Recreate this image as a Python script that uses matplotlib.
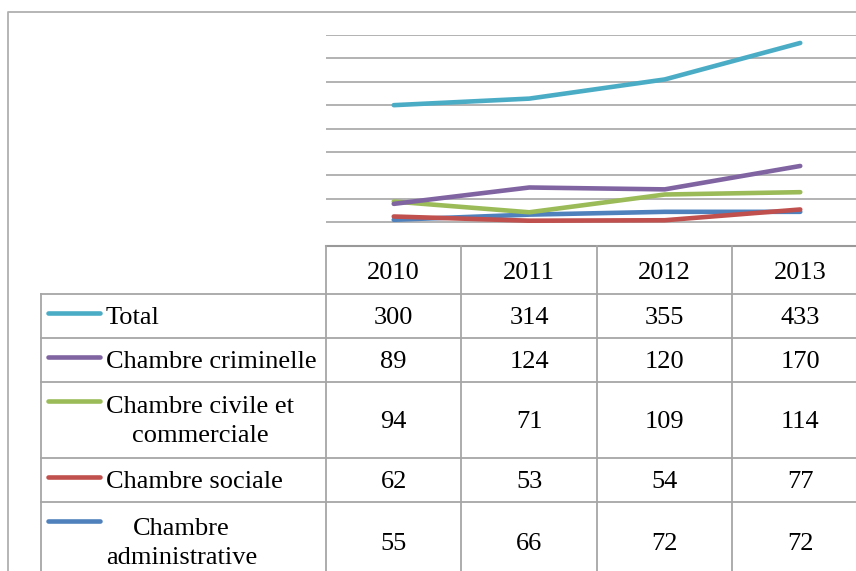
import matplotlib.pyplot as plt

# Cour de cassation: affaires par chambre, 2010-2013
years = ["2010", "2011", "2012", "2013"]
series_names = [
    "Total",
    "Chambre criminelle",
    "Chambre civile et\ncommerciale",
    "Chambre sociale",
    "Chambre\nadministrative",
]
total = [300, 314, 355, 433]
criminelle = [89, 124, 120, 170]
civile = [94, 71, 109, 114]
sociale = [62, 53, 54, 77]
administrative = [55, 66, 72, 72]
series_values = [total, criminelle, civile, sociale, administrative]
colors = ["#4BACC6", "#8064A2", "#9BBB59", "#C0504D", "#4F81BD"]

plt.rcParams["font.family"] = ["Liberation Serif", "DejaVu Serif"]
W, H = 856, 571
fig = plt.figure(figsize=(W / 100, H / 100), dpi=100)

# pixel-space layer for the frame and the data table
tab = fig.add_axes([0, 0, 1, 1])
tab.set_xlim(0, W)
tab.set_ylim(H, 0)
tab.axis("off")

grid_c = "#A6A6A6"
fs = 19

# layout (pixels)
plot_left, col_w = 326, 135.5
plot_top, plot_bottom = 35, 245.5
label_left = 41
header_bottom = 294
row_edges = [294, 338, 382, 458, 502, 582]

# outer chart frame
tab.plot([8, 8, W + 5], [H + 5, 12, 12], color="#B0B0B0", lw=1.3)

# line chart area
ax = fig.add_axes([plot_left / W, (H - plot_bottom) / H,
                   4 * col_w / W, (plot_bottom - plot_top) / H])
ax.patch.set_alpha(0)
ax.set_xlim(-0.5, 3.5)
ax.set_ylim(0, 450)
for v in range(50, 451, 50):
    ax.axhline(v, color=grid_c, lw=1.2, zorder=1)
for s in ax.spines.values():
    s.set_visible(False)
ax.set_xticks([])
ax.set_yticks([])
for vals, c in zip(series_values[::-1], colors[::-1]):
    ax.plot(range(len(years)), vals, color=c, lw=3.3,
            solid_capstyle="round", solid_joinstyle="round", zorder=3)

# table grid
line_kw = dict(color=grid_c, lw=1.3)
tab.plot([plot_left, W + 5], [plot_bottom, plot_bottom], color="#999999", lw=1.5)
for i in range(5):
    x = plot_left + i * col_w
    tab.plot([x, x], [plot_bottom, H + 5], **line_kw)
tab.plot([label_left, label_left], [header_bottom, H + 5], **line_kw)
for y in row_edges[:-1]:
    tab.plot([label_left, W + 5], [y, y], **line_kw)

# header years
for i, yr in enumerate(years):
    tab.text(plot_left + (i + 0.5) * col_w, (plot_bottom + header_bottom) / 2 + 3,
             yr, ha="center", va="center", fontsize=fs)

# rows: legend key, label, values
for r, (name, vals, c) in enumerate(zip(series_names, series_values, colors)):
    top, bot = row_edges[r], row_edges[r + 1]
    mid = (top + bot) / 2
    tab.plot([48, 100], [top + 19, top + 19], color=c, lw=3.3,
             solid_capstyle="round")
    tab.text(106, mid + 1.5, name, ha="left", va="center", fontsize=fs,
             multialignment="center", linespacing=1.4)
    for i, v in enumerate(vals):
        tab.text(plot_left + (i + 0.5) * col_w, mid + 1.5, str(v),
                 ha="center", va="center", fontsize=fs)

fig.savefig("out.png", dpi=100)
